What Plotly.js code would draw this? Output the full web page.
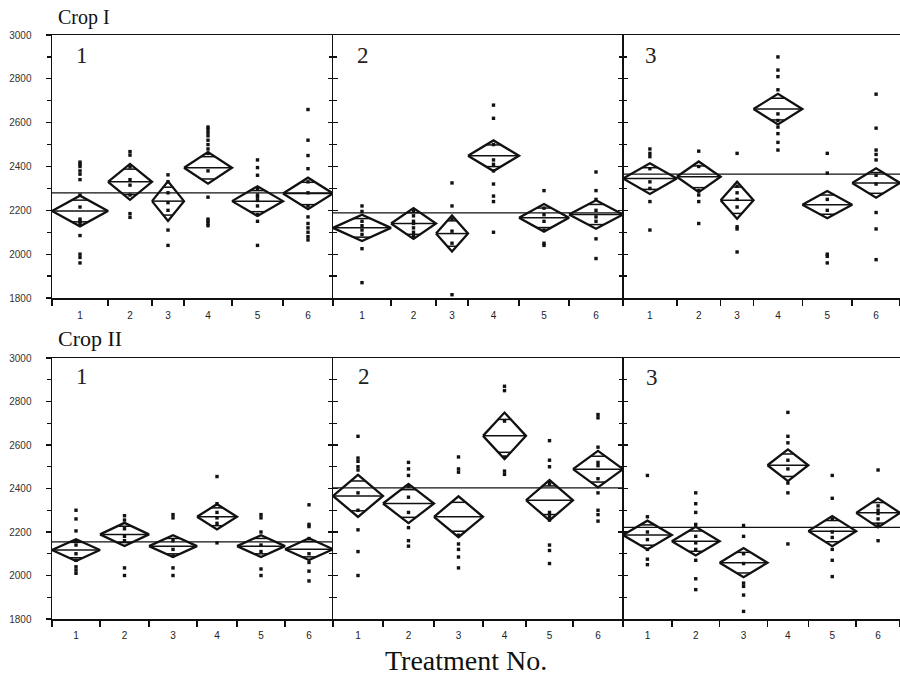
<!DOCTYPE html>
<html>
<head>
<meta charset="utf-8">
<script src="https://cdn.plot.ly/plotly-3.0.1.min.js"></script>
<style>html,body{margin:0;padding:0;background:#fff;}#chart{width:900px;height:678px;}</style>
</head>
<body>
<div id="chart"></div>
<script>
// ---------------- DATA ----------------
const treatments = ['1', '2', '3', '4', '5', '6'];
const yRange = [1800, 3000];

// Crop I, site 1
const c1s1_size = [56, 44, 32, 48, 51, 50];
const c1s1_mean = [2197, 2330, 2242, 2394, 2242, 2277];
const c1s1_ci = [70, 82, 90, 72, 68, 72];
const c1s1_grand = 2280;
const c1s1_obs = [
  [2420, 2410, 2400, 2380, 2365, 2340, 2270, 2215, 2160, 2150, 2140, 2085, 2000, 1985, 1960],
  [2468, 2452, 2398, 2340, 2315, 2270, 2185, 2168],
  [2362, 2330, 2280, 2235, 2200, 2110, 2040],
  [2580, 2570, 2555, 2540, 2520, 2500, 2480, 2460, 2380, 2260, 2160, 2150, 2140, 2130],
  [2430, 2395, 2360, 2300, 2270, 2260, 2245, 2220, 2180, 2150, 2040],
  [2660, 2520, 2450, 2390, 2330, 2280, 2220, 2170, 2140, 2120, 2100, 2080, 2065]
];

// Crop I, site 2
const c1s2_size = [58, 45, 32, 51, 50, 54];
const c1s2_mean = [2120, 2140, 2094, 2449, 2166, 2181];
const c1s2_ci = [60, 70, 82, 70, 63, 65];
const c1s2_grand = 2188;
const c1s2_obs = [
  [2220, 2195, 2150, 2130, 2110, 2090, 2025, 1870],
  [2200, 2175, 2150, 2140, 2120, 2100, 2080],
  [2325, 2220, 2160, 2105, 2050, 1815],
  [2680, 2620, 2500, 2430, 2410, 2380, 2320, 2265, 2240, 2100],
  [2290, 2210, 2180, 2150, 2110, 2050, 2040],
  [2375, 2290, 2250, 2200, 2170, 2150, 2070, 1980]
];

// Crop I, site 3
const c1s3_size = [54, 44, 33, 49, 50, 48];
const c1s3_mean = [2345, 2353, 2246, 2662, 2226, 2325];
const c1s3_ci = [70, 70, 85, 70, 62, 67];
const c1s3_grand = 2365;
const c1s3_obs = [
  [2480, 2460, 2445, 2390, 2330, 2300, 2240, 2110],
  [2470, 2400, 2290, 2270, 2240, 2140],
  [2460, 2310, 2280, 2250, 2215, 2125, 2115, 2010],
  [2900, 2840, 2810, 2750, 2640, 2610, 2580, 2550, 2510, 2475],
  [2460, 2370, 2250, 2200, 2000, 1990, 1960],
  [2730, 2575, 2475, 2455, 2430, 2360, 2320, 2190, 2115, 1975]
];

// Crop II, site 1
const c2s1_size = [48, 49, 48, 40, 48, 48];
const c2s1_mean = [2117, 2189, 2135, 2270, 2135, 2121];
const c2s1_ci = [50, 53, 50, 58, 50, 50];
const c2s1_grand = 2155;
const c2s1_obs = [
  [2300, 2260, 2205, 2160, 2140, 2100, 2070, 2040, 2025, 2010],
  [2275, 2255, 2215, 2180, 2160, 2035, 2000],
  [2280, 2265, 2160, 2120, 2090, 2035, 2000],
  [2455, 2330, 2290, 2265, 2240, 2150],
  [2280, 2265, 2200, 2140, 2110, 2030, 2000],
  [2325, 2235, 2225, 2170, 2100, 2060, 2020, 1975]
];

// Crop II, site 2
const c2s2_size = [50, 51, 49, 43, 47, 50];
const c2s2_mean = [2366, 2331, 2270, 2642, 2346, 2489];
const c2s2_ci = [97, 90, 94, 107, 93, 84];
const c2s2_grand = 2403;
const c2s2_obs = [
  [2640, 2540, 2525, 2500, 2485, 2380, 2300, 2210, 2110, 2000],
  [2520, 2490, 2460, 2410, 2360, 2290, 2220, 2160, 2135],
  [2545, 2490, 2475, 2185, 2145, 2120, 2085, 2035],
  [2870, 2850, 2710, 2545, 2480, 2465],
  [2620, 2530, 2500, 2430, 2420, 2290, 2270, 2255, 2140, 2115, 2055],
  [2740, 2725, 2590, 2520, 2505, 2445, 2380, 2300, 2280, 2250]
];

// Crop II, site 3
const c2s3_size = [49, 48, 48, 41, 48, 44];
const c2s3_mean = [2186, 2158, 2059, 2507, 2204, 2288];
const c2s3_ci = [66, 66, 67, 73, 69, 67];
const c2s3_grand = 2221;
const c2s3_obs = [
  [2460, 2270, 2200, 2165, 2120, 2075, 2050],
  [2380, 2330, 2290, 2235, 2180, 2150, 2120, 2070, 1985, 1935],
  [2230, 2180, 2100, 2055, 1965, 1950, 1910, 1835],
  [2750, 2640, 2610, 2530, 2490, 2425, 2380, 2145],
  [2460, 2355, 2260, 2200, 2175, 2120, 2070, 1995],
  [2485, 2320, 2300, 2285, 2260, 2235, 2160]
];

// ---------------- BUILD ----------------
const panels = [
  {size: c1s1_size, mean: c1s1_mean, ci: c1s1_ci, grand: c1s1_grand, obs: c1s1_obs, label: '1'},
  {size: c1s2_size, mean: c1s2_mean, ci: c1s2_ci, grand: c1s2_grand, obs: c1s2_obs, label: '2'},
  {size: c1s3_size, mean: c1s3_mean, ci: c1s3_ci, grand: c1s3_grand, obs: c1s3_obs, label: '3'},
  {size: c2s1_size, mean: c2s1_mean, ci: c2s1_ci, grand: c2s1_grand, obs: c2s1_obs, label: '1'},
  {size: c2s2_size, mean: c2s2_mean, ci: c2s2_ci, grand: c2s2_grand, obs: c2s2_obs, label: '2'},
  {size: c2s3_size, mean: c2s3_mean, ci: c2s3_ci, grand: c2s3_grand, obs: c2s3_obs, label: '3'}
];

const W = 900, H = 678, ML = 52, MR = 0, MT = 35, MB = 59;
const PW = W - ML - MR, PH = H - MT - MB;
const fx = px => (px - ML) / PW;
const fy = py => (H - MB - py) / PH;

const colDom = [[fx(52), fx(333)], [fx(333), fx(623)], [fx(623), 1]];
const rowDom = [[fy(298), 1], [0, fy(358)]];

const traces = [];
const layout = {
  width: W, height: H,
  margin: {l: ML, r: MR, t: MT, b: MB, pad: 0},
  paper_bgcolor: '#fff', plot_bgcolor: '#fff',
  showlegend: false,
  font: {family: 'Liberation Sans, Arial, sans-serif', color: '#333'},
  annotations: []
};

const serif = 'Liberation Serif, Times New Roman, serif';
const sans = 'Liberation Sans, Arial, sans-serif';
const k2 = Math.SQRT1_2;
const AX_LW = 1.1;

panels.forEach((p, k) => {
  const col = k % 3, row = Math.floor(k / 3);
  const ax = k + 1;
  const xa = 'x' + ax, ya = 'y' + ax;
  const total = p.size.reduce((a, b) => a + b, 0);
  const bounds = [0];
  p.size.forEach(s => bounds.push(bounds[bounds.length - 1] + s));
  const centers = p.size.map((s, i) => bounds[i] + s / 2);

  // grand mean line
  traces.push({x: [0, total], y: [p.grand, p.grand], xaxis: xa, yaxis: ya,
    mode: 'lines', line: {color: '#111', width: 1.3}, hoverinfo: 'skip'});

  // observations
  const ox = [], oy = [];
  p.obs.forEach((vals, i) => vals.forEach(v => { ox.push(centers[i]); oy.push(v); }));
  traces.push({x: ox, y: oy, xaxis: xa, yaxis: ya, mode: 'markers',
    marker: {symbol: 'square', size: 3.4, color: '#111'}, hoverinfo: 'skip'});

  // means diamonds
  const dx = [], dy = [];
  const mx = [], my = [];
  p.mean.forEach((m, i) => {
    const c = centers[i], hw = p.size[i] / 2, ci = p.ci[i];
    dx.push(c - hw, c, c + hw, c, c - hw, null);
    dy.push(m, m + ci, m, m - ci, m, null);
    mx.push(c - hw, c + hw, null);
    my.push(m, m, null);
    const ow = hw * (1 - k2);
    [1, -1].forEach(sg => {
      mx.push(c - ow, c + ow, null);
      my.push(m + sg * ci * k2, m + sg * ci * k2, null);
    });
  });
  traces.push({x: mx, y: my, xaxis: xa, yaxis: ya, mode: 'lines',
    line: {color: '#111', width: 1.5}, hoverinfo: 'skip', connectgaps: false});
  traces.push({x: dx, y: dy, xaxis: xa, yaxis: ya, mode: 'lines',
    line: {color: '#111', width: 2.3}, hoverinfo: 'skip', connectgaps: false});

  // main x axis: group boundary ticks
  layout['xaxis' + ax] = {
    domain: colDom[col], anchor: ya, range: [0, total],
    showgrid: false, zeroline: false,
    showline: true, linecolor: '#111', linewidth: 1.5, mirror: true,
    tickmode: 'array', tickvals: bounds, ticktext: bounds.map(() => ''),
    ticks: 'outside', ticklen: 6, tickwidth: 1.4, tickcolor: '#111',
    fixedrange: true
  };
  // overlay x axis: treatment labels at group centres
  const lx = ax + 8;
  layout['xaxis' + lx] = {
    overlaying: xa, anchor: ya, side: 'bottom', range: [0, total],
    showgrid: false, zeroline: false, showline: false,
    tickmode: 'array', tickvals: centers, ticktext: treatments, ticks: '',
    ticklabelstandoff: row === 0 ? 10 : 9,
    tickfont: {family: sans, size: 10, color: '#222'},
    fixedrange: true
  };
  traces.push({x: [null], y: [null], xaxis: 'x' + lx, yaxis: ya, mode: 'markers', hoverinfo: 'skip'});

  const yax = {
    domain: rowDom[row], anchor: xa, range: yRange,
    showgrid: false, zeroline: false,
    showline: true, linecolor: '#111', linewidth: AX_LW,
    tickmode: 'linear', tick0: 1800, dtick: 200,
    ticklen: 5, tickwidth: 1.2, tickcolor: '#111',
    minor: {dtick: 100, tick0: 1800, ticklen: 4, tickwidth: 1.2, tickcolor: '#111', showgrid: false},
    fixedrange: true
  };
  if (col === 0) {
    yax.ticks = 'outside'; yax.minor.ticks = 'outside';
    yax.mirror = false; yax.showticklabels = true;
    yax.ticklabelstandoff = 12;
    yax.tickfont = {family: sans, size: 10, color: '#333'};
    yax.linewidth = 1.5;
  } else if (col === 1) {
    yax.ticks = 'inside'; yax.minor.ticks = 'inside';
    yax.mirror = 'ticks'; yax.showticklabels = false;
  } else {
    yax.ticks = 'inside'; yax.minor.ticks = 'inside';
    yax.mirror = false; yax.showticklabels = false;
  }
  layout['yaxis' + ax] = yax;

  // panel number
  const numPos = [[82, 55], [363, 55], [651, 55], [82, 376], [364, 376], [652, 377]][k];
  layout.annotations.push({xref: 'paper', yref: 'paper', x: fx(numPos[0]), y: fy(numPos[1]),
    xanchor: 'center', yanchor: 'middle', showarrow: false, text: p.label,
    font: {family: serif, size: 23, color: '#222'}});
});

// inward ticks on the right edge of the first panel in each row
[[1, 7], [4, 8]].forEach(([base, ov]) => {
  layout['yaxis' + ov] = {
    overlaying: 'y' + base, anchor: 'x' + base, side: 'right', range: yRange,
    showgrid: false, zeroline: false, showline: false, showticklabels: false,
    tickmode: 'linear', tick0: 1800, dtick: 200, ticks: 'inside', ticklen: 5,
    tickwidth: 1.2, tickcolor: '#111',
    minor: {dtick: 100, tick0: 1800, ticks: 'inside', ticklen: 4, tickwidth: 1.2, tickcolor: '#111', showgrid: false},
    fixedrange: true
  };
  traces.push({x: [null], y: [null], xaxis: 'x' + base, yaxis: 'y' + ov, mode: 'markers', hoverinfo: 'skip'});
});

layout.annotations.push(
  {xref: 'paper', yref: 'paper', x: fx(56), y: fy(17.5), xanchor: 'left', yanchor: 'middle',
    showarrow: false, text: 'Crop I', font: {family: serif, size: 20, color: '#111'}},
  {xref: 'paper', yref: 'paper', x: fx(56), y: fy(338), xanchor: 'left', yanchor: 'middle',
    showarrow: false, text: 'Crop II', font: {family: serif, size: 22, color: '#111'}},
  {xref: 'paper', yref: 'paper', x: fx(466), y: fy(660), xanchor: 'center', yanchor: 'middle',
    borderpad: 0, showarrow: false, text: 'Treatment No.', font: {family: serif, size: 28, color: '#111'}}
);

Plotly.newPlot('chart', traces, layout, {displayModeBar: false, staticPlot: true});
</script>
</body>
</html>
